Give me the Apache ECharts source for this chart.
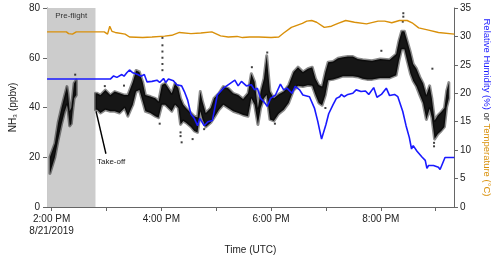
<!DOCTYPE html>
<html>
<head>
<meta charset="utf-8">
<script src="https://cdn.jsdelivr.net/npm/echarts@6/dist/echarts.min.js"></script>
<style>html,body{margin:0;padding:0;background:#fff}#c{width:500px;height:260px}</style>
</head>
<body>
<div id="c"></div>
<script>
// ---- data (time in decimal hours UTC, 8/21/2019) ----
const xMin = 13 + 55 / 60;
const xMax = 21 + 20 / 60;
const tickHours = [14, 15, 16, 17, 18, 19, 20, 21];
const labelHours = [14, 16, 18, 20];
const preFlightEnd = 14.8;

// NH3 pre-flight band (low / high envelope of the scatter cloud), ppbv
const preTime = [13.97, 14.06, 14.12, 14.18, 14.24, 14.28, 14.30, 14.33, 14.36, 14.38, 14.41, 14.45];
const preLow  = [13.5, 20.0, 27.0, 33.2, 38.5, 41.0, 39.0, 32.6, 33.5, 38.0, 43.7, 45.0];
const preHigh = [20.1, 25.5, 34.0, 39.8, 45.0, 48.4, 45.5, 38.5, 40.0, 43.7, 49.7, 51.0];

// NH3 in-flight band, ppbv
const flightTime = [
  14.80,14.83,14.89,14.98,15.07,15.15,15.24,15.33,15.39,15.48,
  15.54,15.60,15.66,15.71,15.80,15.89,15.95,16.01,16.07,16.13,
  16.19,16.25,16.31,16.35,16.40,16.45,16.54,16.60,16.66,16.71,
  16.75,16.81,16.90,16.96,17.05,17.13,17.22,17.31,17.40,17.49,
  17.58,17.64,17.70,17.76,17.81,17.87,17.92,17.98,18.05,18.14,
  18.23,18.32,18.41,18.49,18.58,18.67,18.75,18.81,18.87,18.93,
  18.99,19.04,19.13,19.22,19.31,19.40,19.49,19.58,19.67,19.75,
  19.84,19.99,20.16,20.28,20.33,20.38,20.43,20.48,20.54,20.59,
  20.65,20.71,20.77,20.83,20.89,20.93,20.98,21.04,21.10,21.16,
  21.20,21.24];
const flightHigh = [
  45.7,45.7,45.0,47.0,45.0,46.4,45.7,45.0,45.0,50.3,
  54.9,54.3,50.3,45.0,44.4,43.7,42.4,49.0,49.7,47.7,
  45.7,49.7,47.7,43.7,41.1,39.8,37.8,36.5,36.0,46.4,
  42.4,37.8,39.8,43.7,45.7,48.4,47.7,45.7,45.0,43.4,
  45.7,53.6,50.3,39.8,46.4,51.6,60.8,46.4,43.7,45.3,
  46.4,49.0,54.3,56.2,54.3,55.6,56.2,51.6,49.0,48.4,
  54.3,58.2,58.5,59.8,60.2,60.5,60.5,59.5,59.2,59.0,
  58.8,59.5,59.2,61.5,66.8,70.7,70.7,66.8,62.1,57.5,
  55.6,52.3,49.7,45.0,48.7,43.7,34.8,36.9,38.2,39.8,
  46.7,50.0];
const flightLow = [
  39.1,39.1,37.8,39.1,38.5,38.5,37.8,39.8,36.5,41.1,
  46.4,47.0,42.4,38.5,37.8,36.5,35.9,41.1,41.1,39.8,
  38.5,41.1,39.8,33.2,34.6,33.9,32.2,30.6,30.0,38.5,
  35.2,32.2,33.9,35.9,39.1,41.1,39.8,38.5,37.8,37.0,
  36.5,43.7,41.1,33.2,39.8,43.7,45.0,35.2,34.6,37.5,
  39.1,41.8,47.0,48.7,48.4,48.9,48.7,45.0,41.8,40.9,
  45.0,51.0,51.3,51.9,52.6,52.6,52.6,52.3,51.6,51.3,
  51.3,51.9,51.9,53.0,58.8,63.4,63.4,58.8,53.6,50.7,
  48.4,45.0,41.8,35.2,39.5,35.9,27.3,29.3,30.6,32.2,
  40.1,43.7];

// isolated NH3 points outside the dense cloud
const outlierTime = [14.43,14.97,15.32,16.02,16.02,16.02,16.02,16.02,16.02,16.35,16.35,16.37,15.97,16.57,16.78,17.65,17.93,18.07,18.99,20.01,20.40,20.41,20.41,20.94,20.97,20.97];
const outlierVal  = [53.2,48.6,48.8,68.0,65.0,62.5,60.0,57.5,55.0,30.0,28.5,26.0,33.5,27.3,31.3,56.2,62.1,33.5,39.8,62.8,74.5,76.5,77.9,55.6,24.4,25.8];

// Temperature (°C)
const tempTime = [13.917,14.27,14.31,14.34,14.38,14.41,14.45,14.96,15.02,15.06,15.10,15.16,15.34,15.42,15.66,15.83,16.06,16.19,16.33,16.54,16.72,16.92,17.08,17.22,17.38,17.48,17.61,17.78,18.00,18.14,18.23,18.37,18.57,18.65,18.74,18.83,18.97,19.10,19.22,19.36,19.52,19.74,19.95,20.07,20.20,20.34,20.48,20.57,20.69,20.87,21.05,21.34];
const tempVal  = [30.8,30.8,30.5,30.3,30.4,30.7,30.8,30.8,30.4,31.8,30.9,30.7,30.4,29.9,29.8,29.9,30.05,30.2,30.7,30.5,30.6,30.8,30.1,29.9,30.0,29.8,29.9,29.9,29.8,29.9,30.6,31.6,32.3,32.7,32.8,32.5,31.6,31.8,32.3,32.8,32.5,32.2,32.7,32.7,32.4,32.8,32.8,32.4,31.5,31.1,30.7,30.4];

// Relative humidity (%)
const rhTime = [13.917,15.07,15.13,15.19,15.28,15.32,15.37,15.42,15.48,15.57,15.63,15.69,15.74,15.83,15.92,15.97,16.04,16.08,16.13,16.22,16.28,16.37,16.42,16.48,16.54,16.60,16.66,16.70,16.78,16.85,16.93,17.02,17.13,17.25,17.34,17.40,17.46,17.55,17.64,17.70,17.75,17.81,17.87,17.93,17.99,18.08,18.17,18.23,18.29,18.38,18.44,18.52,18.58,18.70,18.79,18.85,18.92,19.00,19.05,19.13,19.19,19.25,19.28,19.33,19.40,19.49,19.55,19.64,19.72,19.78,19.87,19.93,20.01,20.10,20.16,20.25,20.31,20.40,20.46,20.52,20.56,20.59,20.66,20.75,20.81,20.84,20.87,20.96,21.05,21.08,21.17,21.34];
const rhVal  = [22.5,22.5,23.05,22.8,23.3,23.0,23.6,24.1,23.6,23.3,23.0,23.3,22.0,22.1,22.3,21.9,22.6,21.9,22.5,22.2,21.5,21.3,20.3,18.8,16.3,15.6,14.3,15.6,14.3,15.0,15.2,19.7,20.9,21.7,22.3,21.3,22.1,21.3,21.5,20.6,20.9,19.1,18.5,17.7,19.1,19.7,21.6,20.6,20.9,20.0,21.2,20.6,19.7,19.4,17.4,15.1,11.95,14.5,16.4,18.0,19.1,19.4,19.8,19.4,19.8,20.0,20.6,20.3,20.4,19.8,21.0,19.3,19.8,20.9,19.6,19.8,19.4,16.8,14.3,12.2,10.2,10.8,9.8,8.8,8.2,6.8,7.3,7.3,7.0,6.6,8.7,8.7];

// ---- build library data ----
const bandGroups = [
  { t: preTime, lo: preLow, hi: preHigh },
  { t: flightTime, lo: flightLow, hi: flightHigh }
];
const bandData = bandGroups.map((g, i) => [g.t[0], g.lo[0], i]);
const zip = (a, b) => a.map((v, i) => [v, b[i]]);

function hourLabel(h) {
  const hh = h > 12 ? h - 12 : h;
  const s = hh + ':00 PM';
  return h === 14 ? s + '\n8/21/2019' : s;
}

const FONT = 'Liberation Sans, Arial, sans-serif';
const axisGray = '#666';
const chart = echarts.init(document.getElementById('c'), null, { renderer: 'canvas' });

chart.setOption({
  animation: false,
  textStyle: { fontFamily: FONT },
  grid: { left: 42, right: 40, top: 8, bottom: 49 },
  xAxis: {
    type: 'value', min: xMin, max: xMax,
    name: 'Time (UTC)', nameLocation: 'middle', nameGap: 38,
    nameTextStyle: { fontSize: 10, color: '#222', fontFamily: FONT },
    axisLine: { show: true, lineStyle: { color: axisGray } },
    axisTick: { show: true, length: 4, customValues: tickHours, lineStyle: { color: axisGray } },
    axisLabel: { customValues: labelHours, formatter: v => hourLabel(Math.round(v)), fontSize: 10, color: '#222', lineHeight: 12, margin: 6, fontFamily: FONT },
    splitLine: { show: false }
  },
  yAxis: [{
    type: 'value', min: 0, max: 80, interval: 20, position: 'left',
    name: 'NH₃ (ppbv)', nameLocation: 'middle', nameGap: 29,
    nameTextStyle: { fontSize: 10, color: '#222', fontFamily: FONT },
    axisLine: { show: true, lineStyle: { color: axisGray } },
    axisTick: { show: true, length: 4, lineStyle: { color: axisGray } },
    axisLabel: { fontSize: 10, color: '#222', margin: 7, fontFamily: FONT },
    splitLine: { show: false }
  }, {
    type: 'value', min: 0, max: 35, interval: 5, position: 'right',
    name: '{b|Relative Humidity (%)} {k|or} {o|Temperature (°C)}',
    nameLocation: 'middle', nameGap: 27, nameRotate: -90,
    nameTextStyle: {
      fontSize: 9.5, fontFamily: FONT,
      rich: {
        b: { color: '#1a1aff', fontSize: 9.5, fontFamily: FONT },
        k: { color: '#222', fontSize: 9.5, fontFamily: FONT },
        o: { color: '#d9900a', fontSize: 9.5, fontFamily: FONT }
      }
    },
    axisLine: { show: true, lineStyle: { color: axisGray } },
    axisTick: { show: true, length: 4, lineStyle: { color: axisGray } },
    axisLabel: { fontSize: 10, color: '#222', margin: 6, fontFamily: FONT },
    splitLine: { show: false }
  }],
  series: [{
    type: 'line', data: [], z: 1, silent: true,
    markArea: {
      silent: true,
      itemStyle: { color: '#cccccc' },
      label: { show: true, position: 'insideTop', distance: 4, formatter: 'Pre-flight', fontSize: 8, color: '#333', fontFamily: FONT },
      data: [[{ xAxis: xMin }, { xAxis: preFlightEnd }]]
    }
  }, {
    type: 'custom', z: 3, clip: true,
    xAxisIndex: 0, yAxisIndex: 0,
    data: bandData,
    renderItem: function (params, api) {
      const g = bandGroups[params.dataIndex];
      const pts = [];
      for (let i = 0; i < g.t.length; i++) pts.push(api.coord([g.t[i], g.hi[i]]));
      for (let i = g.t.length - 1; i >= 0; i--) pts.push(api.coord([g.t[i], g.lo[i]]));
      return {
        type: 'polygon', shape: { points: pts },
        style: { fill: '#161616', stroke: 'rgba(0,0,0,0.45)', lineWidth: 3, lineJoin: 'round' }
      };
    }
  }, {
    type: 'scatter', z: 3, xAxisIndex: 0, yAxisIndex: 0,
    symbol: 'rect', symbolSize: 2, itemStyle: { color: '#111' },
    data: zip(outlierTime, outlierVal)
  }, {
    type: 'line', z: 4, xAxisIndex: 0, yAxisIndex: 1,
    showSymbol: false, symbol: 'none',
    lineStyle: { color: '#1a1aff', width: 1.6 },
    data: zip(rhTime, rhVal)
  }, {
    type: 'line', z: 4, xAxisIndex: 0, yAxisIndex: 1,
    showSymbol: false, symbol: 'none',
    lineStyle: { color: '#d9900a', width: 1.4 },
    data: zip(tempTime, tempVal)
  }]
});

// Take-off annotation, positioned in data space
const finder = { xAxisIndex: 0, yAxisIndex: 0 };
const a = chart.convertToPixel(finder, [14.99, 21.4]);
const b = chart.convertToPixel(finder, [14.81, 38.5]);
const tp = chart.convertToPixel(finder, [14.827, 18.3]);
chart.setOption({
  graphic: [
    { type: 'line', z: 10, shape: { x1: a[0], y1: a[1], x2: b[0], y2: b[1] }, style: { stroke: '#000', lineWidth: 1.4 } },
    { type: 'text', z: 10, x: tp[0], y: tp[1], style: { text: 'Take-off', fontSize: 8, fontFamily: FONT, fill: '#222', align: 'left', verticalAlign: 'middle' } }
  ]
});
</script>
</body>
</html>
